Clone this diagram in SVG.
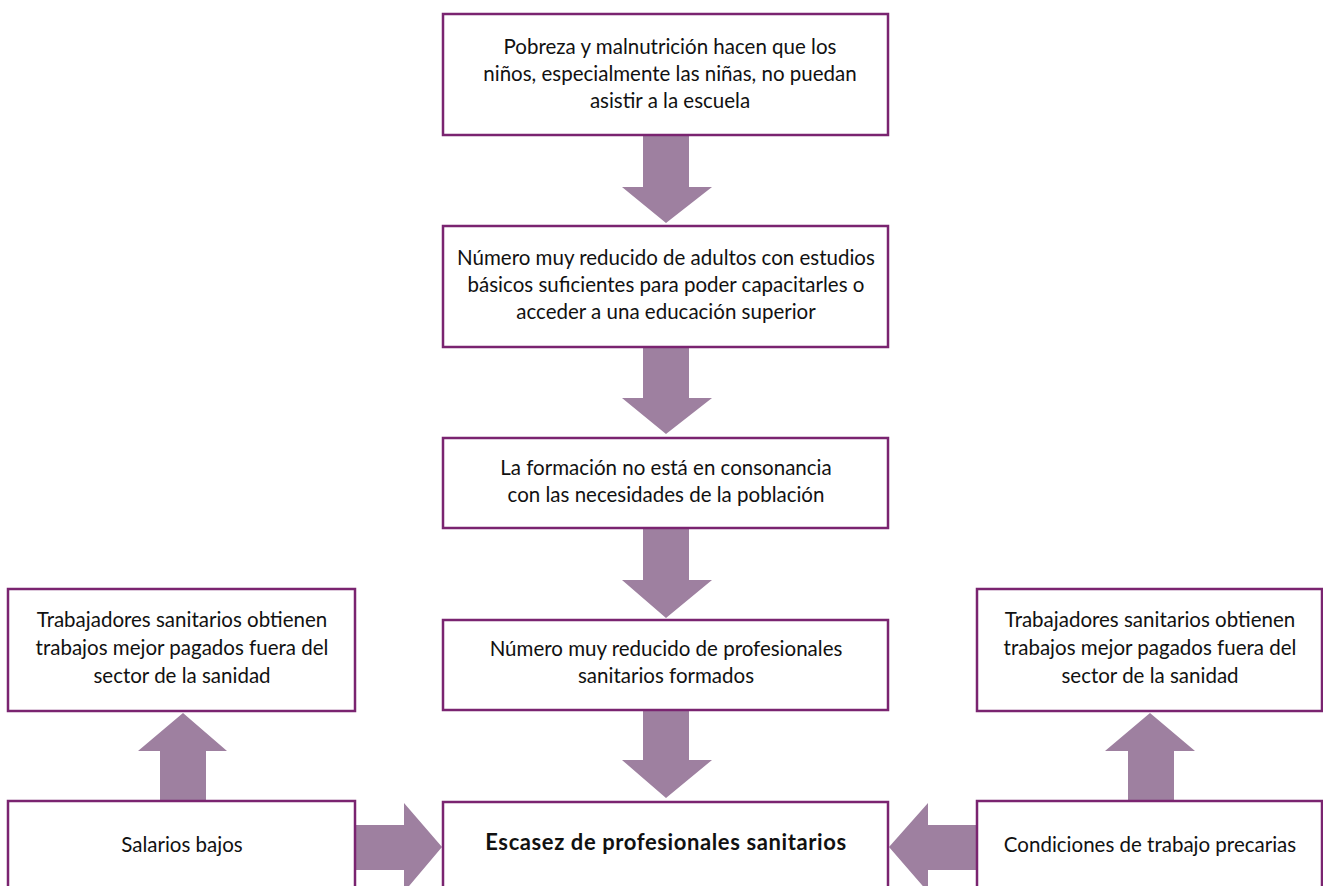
<svg xmlns="http://www.w3.org/2000/svg" width="1323" height="886" viewBox="0 0 1323 886">
<style>
.box{fill:#fff;stroke:#7a2470;stroke-width:2.5}
.arr{fill:#9e80a0}
text{font-family:Lato,"Liberation Sans",sans-serif;font-size:20.5px;fill:#111;text-anchor:middle}
.b{font-weight:bold;font-size:22px;letter-spacing:0.6px}
</style>
<rect width="1323" height="886" fill="#fff"/>
<g id="connectors">
<polygon class="arr" points="643,135 689,135 689,187 712,187 666,223 622,187 643,187"/>
<polygon class="arr" points="643,347 689,347 689,398 712,398 666,434 622,398 643,398"/>
<polygon class="arr" points="643,528 689,528 689,580 712,580 666,618 622,580 643,580"/>
<polygon class="arr" points="643,710 689,710 689,760 712,760 666,798 622,760 643,760"/>
<polygon class="arr" points="160,801 206,801 206,751 227,751 183,713 138,751 160,751"/>
<polygon class="arr" points="1128,801 1174,801 1174,751 1195,751 1150,713 1105,751 1128,751"/>
<polygon class="arr" points="355,825 404,825 404,803 442,847 404,892 404,870 355,870"/>
<polygon class="arr" points="977,825 928,825 928,803 889,847 928,892 928,870 977,870"/>
</g>
<g id="n1"><rect class="box" x="443" y="14" width="445" height="121"/>
<text x="670" y="54">Pobreza y malnutrición hacen que los</text>
<text x="670" y="81">niños, especialmente las niñas, no puedan</text>
<text x="670" y="108">asistir a la escuela</text></g>
<g id="n2"><rect class="box" x="443" y="226" width="445" height="121"/>
<text x="666" y="265">Número muy reducido de adultos con estudios</text>
<text x="666" y="292">básicos suficientes para poder capacitarles o</text>
<text x="666" y="319">acceder a una educación superior</text></g>
<g id="n3"><rect class="box" x="443" y="438" width="445" height="90"/>
<text x="666" y="475">La formación no está en consonancia</text>
<text x="666" y="502">con las necesidades de la población</text></g>
<g id="n4"><rect class="box" x="443" y="620" width="445" height="90"/>
<text x="666" y="656">Número muy reducido de profesionales</text>
<text x="666" y="683">sanitarios formados</text></g>
<g id="n5"><rect class="box" x="443" y="802" width="445" height="100"/>
<text class="b" x="666" y="850">Escasez de profesionales sanitarios</text></g>
<g id="n6"><rect class="box" x="8" y="589" width="347" height="122"/>
<text x="182" y="627">Trabajadores sanitarios obtienen</text>
<text x="182" y="655">trabajos mejor pagados fuera del</text>
<text x="182" y="683">sector de la sanidad</text></g>
<g id="n7"><rect class="box" x="8" y="801" width="347" height="100"/>
<text x="182" y="852">Salarios bajos</text></g>
<g id="n8"><rect class="box" x="977" y="589" width="345" height="122"/>
<text x="1150" y="627">Trabajadores sanitarios obtienen</text>
<text x="1150" y="655">trabajos mejor pagados fuera del</text>
<text x="1150" y="683">sector de la sanidad</text></g>
<g id="n9"><rect class="box" x="977" y="801" width="345" height="100"/>
<text x="1150" y="852">Condiciones de trabajo precarias</text></g>
</svg>
